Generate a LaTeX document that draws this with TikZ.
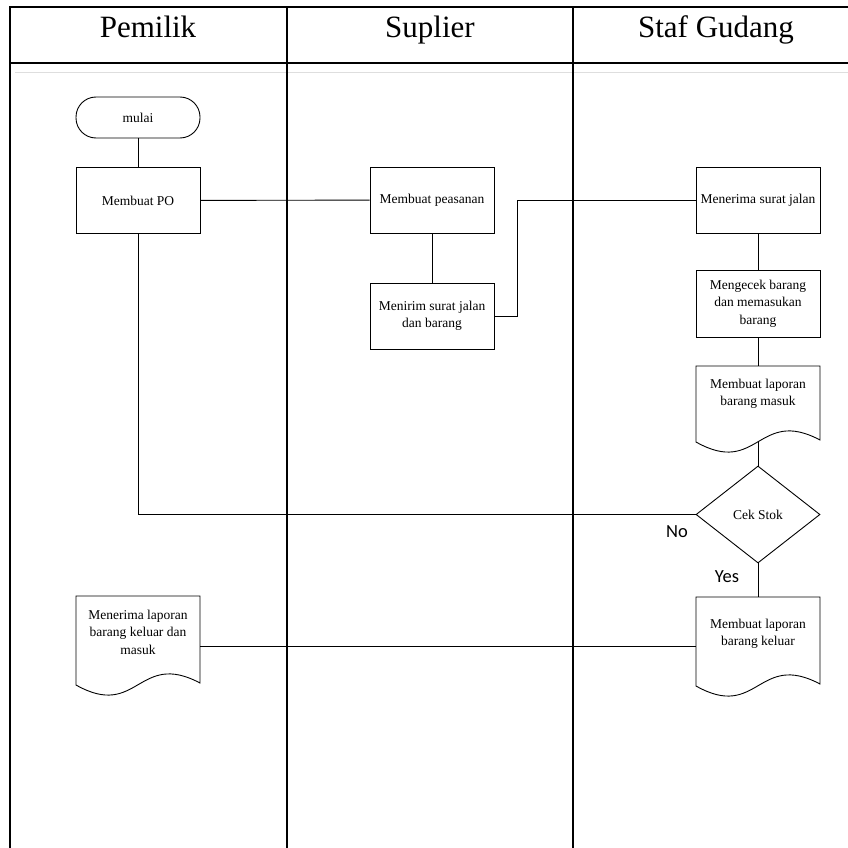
\documentclass[tikz,border=0pt]{standalone}
\usepackage{fontspec}
\setmainfont{Liberation Serif}
\newfontfamily\calibri{Carlito}
\usetikzlibrary{shapes.geometric}

\tikzset{
  lane/.style={line width=1.4pt, black},
  wire/.style={line width=0.9pt, black},
  boxtext/.style={font=\fontsize{13.5}{17.5}\selectfont, align=center, inner sep=0pt},
  procbox/.style={draw, line width=0.9pt, minimum width=124pt, minimum height=66pt,
                  inner sep=2pt, align=center, font=\fontsize{13.5}{17.5}\selectfont},
  startbox/.style={draw, line width=0.9pt, rounded corners=20pt, minimum width=124pt,
                   minimum height=41pt, inner sep=0pt, font=\fontsize{13.5}{17.5}\selectfont},
  docarea/.style={minimum width=124pt, inner sep=0pt, outer sep=0pt},
  decision/.style={diamond, draw, line width=0.9pt, minimum width=124pt, minimum height=97pt,
                   inner sep=0pt, font=\fontsize{13.5}{17.5}\selectfont},
  head/.style={font=\fontsize{31}{36}\selectfont, anchor=base, inner sep=0pt},
  answer/.style={font=\calibri\fontsize{18.5}{22}\selectfont, inner sep=0pt},
}

% document symbol: flat top, wavy bottom; #1 = node name, #2 = height
\newcommand{\docoutline}[2]{%
  \draw[wire, shift={(#1.north west)}] (0,0) -- (124,0) -- (124,-#2+2)
    .. controls (62,-#2+35) and (62,-#2-35) .. (0,-#2) -- cycle;}

\begin{document}
\begin{tikzpicture}[x=1pt, y=1pt]
\useasboundingbox (0,0) rectangle (848,-848);

% swimlane frame
\draw[line width=0.9pt, black!13] (15,-72) -- (848,-72);
\draw[lane] (10,-848) -- (10,-7) -- (848,-7);
\draw[lane] (10,-63) -- (848,-63);
\draw[lane] (287,-7) -- (287,-848);
\draw[lane] (573,-7) -- (573,-848);

\node[head] (h1) at (148,-38) {Pemilik};
\node[head] (h2) at (430,-38) {Suplier};
\node[head] (h3) at (716,-38) {Staf Gudang};

% Pemilik
\node[startbox] (mulai) at (138,-117.5) {mulai};
\node[procbox] (po) at (138,-200.5) {Membuat PO};
\node[docarea, minimum height=89pt, anchor=north] (terima) at (138,-596) {};
\docoutline{terima}{89}
\node[boxtext] (terimat) at (138,-632) {Menerima laporan\\barang keluar dan\\masuk};

% Suplier
\node[procbox] (pesan) at (432,-200) {Membuat peasanan};
\node[procbox] (kirim) at (432,-316) {Menirim surat jalan\\dan barang};

% Staf Gudang
\node[procbox] (sj) at (758,-200) {Menerima surat jalan};
\node[procbox, minimum height=67pt] (cek) at (758,-303.5) {Mengecek barang\\dan memasukan\\barang};
\node[docarea, minimum height=76pt, anchor=north] (masuk) at (758,-366) {};
\docoutline{masuk}{76}
\node[boxtext] (masukt) at (758,-394) {Membuat laporan\\barang masuk};
\node[decision] (stok) at (758,-514.5) {Cek Stok};
\node[docarea, minimum height=89pt, anchor=north] (keluar) at (758,-597) {};
\docoutline{keluar}{89}
\node[boxtext] (keluart) at (758,-634) {Membuat laporan\\barang keluar};

\node[answer] (no) at (677,-532) {No};
\node[answer] (yes) at (727,-577) {Yes};

% connectors
\draw[wire] (mulai) -- (po);
\draw[wire] (po) -- (pesan);
\draw[wire] (pesan) -- (kirim);
\draw[wire] (kirim.east) -- ++(23,0) |- (sj.west);
\draw[wire] (sj) -- (cek);
\draw[wire] (cek) -- (masuk.north);
\draw[wire] (masuk.south) -- (stok.north);
\draw[wire] (stok.west) -| (po.south);
\draw[wire] (stok.south) -- (keluar.north);
\draw[wire] (terima.east |- 0,-646) -- (keluar.west |- 0,-646);
\end{tikzpicture}
\end{document}
